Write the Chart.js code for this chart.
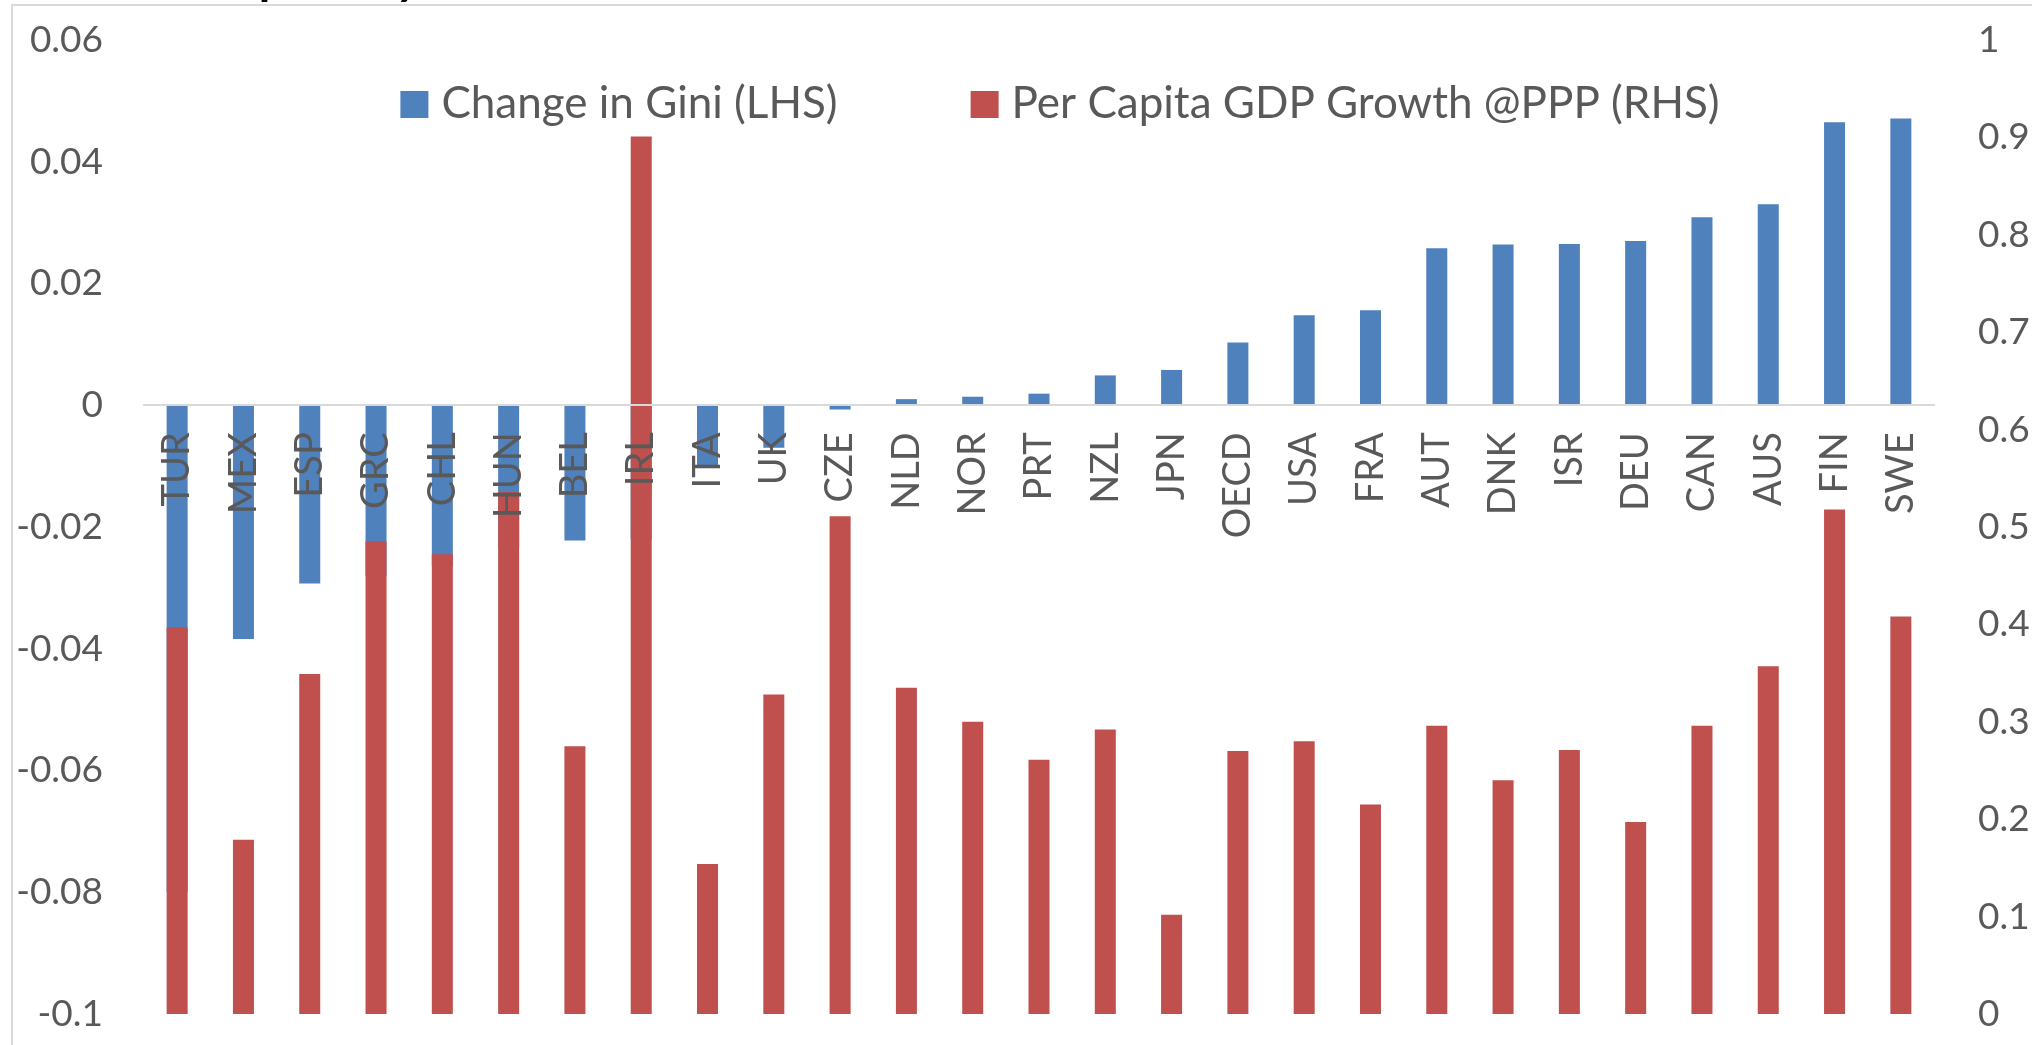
<!DOCTYPE html>
<html>
<head>
<meta charset="utf-8">
<script src="https://cdn.jsdelivr.net/npm/chart.js@4.4.1/dist/chart.umd.min.js"></script>
<style>
html, body { margin: 0; padding: 0; background: #fff; }
#wrap { width: 2032px; height: 1045px; }
</style>
</head>
<body>
<div id="wrap"><canvas id="myChart" width="2032" height="1045"></canvas></div>
<script>
// data
var countries = ['TUR', 'MEX', 'ESP', 'GRC', 'CHL', 'HUN', 'BEL', 'IRL', 'ITA', 'UK', 'CZE', 'NLD', 'NOR', 'PRT',
    'NZL', 'JPN', 'OECD', 'USA', 'FRA', 'AUT', 'DNK', 'ISR', 'DEU', 'CAN', 'AUS', 'FIN', 'SWE'];

var giniChange = [-0.080, -0.0384, -0.0293, -0.028, -0.0264, -0.0235, -0.0222, -0.022, -0.0098, -0.0070,
    -0.0007, 0.0010, 0.0014, 0.0019, 0.0049, 0.0058, 0.0103, 0.0148, 0.0156, 0.0258, 0.0264, 0.0265,
    0.0270, 0.0309, 0.0330, 0.0465, 0.0471];

var gdpGrowth = [0.397, 0.179, 0.349, 0.485, 0.472, 0.536, 0.275, 0.901, 0.154, 0.328, 0.511, 0.335, 0.300,
    0.261, 0.292, 0.102, 0.270, 0.280, 0.215, 0.296, 0.240, 0.271, 0.197, 0.296, 0.357, 0.518, 0.408];

var seriesNames = ['Change in Gini (LHS)', 'Per Capita GDP Growth @PPP (RHS)'];
var seriesColors = ['#4F81BD', '#C0504D'];

var leftAxis = [-0.1, 0.06, 0.02];   // min, max, step
var rightAxis = [0, 1, 0.1];

var textGrey = '#595959';
var lineGrey = '#D9D9D9';

Chart.defaults.font.family = 'Lato';
Chart.defaults.color = textGrey;

// chart frame, cut-off title, and the legend sitting inside the plot
var framePlugin = {
    id: 'frame',
    beforeDraw: function(chart) {
        var ctx = chart.ctx;
        ctx.save();
        ctx.fillStyle = '#fff';
        ctx.fillRect(0, 0, chart.width, chart.height);
        ctx.font = '64px Lato';
        ctx.fillStyle = '#000';
        ctx.textBaseline = 'alphabetic';
        var startX = 266 - ctx.measureText('Ine').width - 0.47 * 64;
        ctx.fillText('Inequality', startX, -9);
        ctx.strokeStyle = lineGrey;
        ctx.lineWidth = 2;
        ctx.beginPath();
        ctx.moveTo(12, chart.height);
        ctx.lineTo(12, 5);
        ctx.lineTo(chart.width, 5);
        ctx.stroke();
        ctx.restore();
    },
    afterDraw: function(chart) {
        var ctx = chart.ctx;
        ctx.save();
        ctx.font = '44px Lato';
        ctx.textBaseline = 'alphabetic';
        var box = 28, gap = 13, spacing = 133;
        var w1 = ctx.measureText(seriesNames[0]).width;
        var w2 = ctx.measureText(seriesNames[1]).width;
        var total = box + gap + w1 + spacing + box + gap + w2;
        var x = 1060 - total / 2;
        var base = 118;
        for (var i = 0; i < 2; i++) {
            ctx.fillStyle = seriesColors[i];
            ctx.fillRect(x, base - 27, box, 27);
            ctx.fillStyle = textGrey;
            ctx.fillText(seriesNames[i], x + box + gap, base);
            x += box + gap + (i == 0 ? w1 : w2) + spacing;
        }
        ctx.restore();
    }
};

function fixAxis(width) {
    return function(scale) {
        scale.width = width;
        scale.paddingTop = 0;
        scale.paddingBottom = 0;
    };
}

var ctx = document.getElementById('myChart').getContext('2d');

var myChart = new Chart(ctx, {
    type: 'bar',
    data: {
        labels: countries,
        datasets: [{
            label: seriesNames[0],
            data: giniChange,
            backgroundColor: seriesColors[0],
            yAxisID: 'yL',
            order: 1
        }, {
            label: seriesNames[1],
            data: gdpGrowth,
            backgroundColor: seriesColors[1],
            yAxisID: 'yR',
            order: 0
        }]
    },
    options: {
        responsive: false,
        animation: false,
        devicePixelRatio: 1,
        layout: { padding: { top: 40, bottom: 31, left: 0, right: 0 } },
        datasets: {
            bar: { grouped: false, barPercentage: 0.317, categoryPercentage: 1 }
        },
        plugins: {
            legend: { display: false },
            tooltip: { enabled: false }
        },
        scales: {
            x: {
                type: 'category',
                offset: true,
                position: { yL: 0 },
                grid: { display: false, drawTicks: false, tickLength: 0 },
                border: { display: true, color: lineGrey, width: 2, z: 1 },
                ticks: {
                    z: 1,
                    autoSkip: false,
                    maxRotation: 90,
                    minRotation: 90,
                    padding: 27,
                    color: textGrey,
                    font: { size: 38 }
                }
            },
            yL: {
                position: 'left',
                min: leftAxis[0],
                max: leftAxis[1],
                grid: { display: false, drawTicks: false, tickLength: 0 },
                border: { display: false },
                ticks: {
                    stepSize: leftAxis[2],
                    padding: 41,
                    color: textGrey,
                    font: { size: 37 },
                    callback: function(v) { return String(Math.round(v * 100) / 100); }
                },
                afterFit: fixAxis(144)
            },
            yR: {
                position: 'right',
                min: rightAxis[0],
                max: rightAxis[1],
                grid: { display: false, drawTicks: false, tickLength: 0 },
                border: { display: false },
                ticks: {
                    stepSize: rightAxis[2],
                    padding: 44,
                    color: textGrey,
                    font: { size: 37 },
                    callback: function(v) { return String(Math.round(v * 10) / 10); }
                },
                afterFit: fixAxis(98)
            }
        }
    },
    plugins: [framePlugin]
});
</script>
</body>
</html>
